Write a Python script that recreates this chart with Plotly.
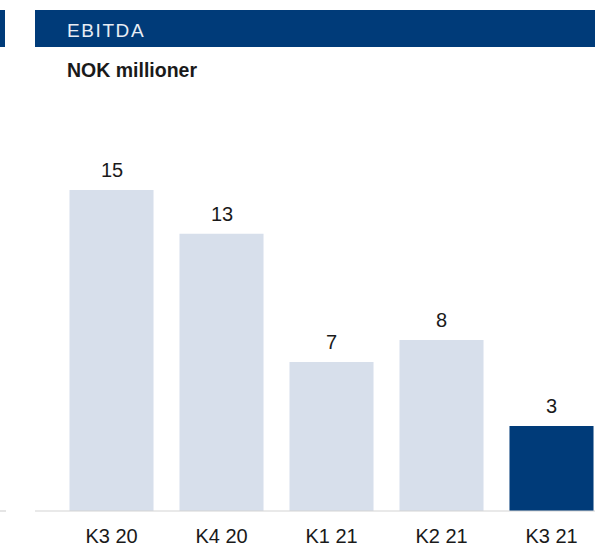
import plotly.graph_objects as go

categories = ["K3 20", "K4 20", "K1 21", "K2 21", "K3 21"]
values = [15.0, 12.95, 6.96, 7.99, 3.97]
value_labels = ["15", "13", "7", "8", "3"]
highlight = [False, False, False, False, True]

W, H = 595, 546
L, R, T, B = 35, 0, 100, 35
PW, PH = W - L - R, H - T - B

DARK = "#003b79"
LIGHT = "#d7dfeb"
FONT = "Liberation Sans, Arial, sans-serif"

def px_x(p):
    return (p - L) / PW

def px_y(p):
    return (H - B - p) / PH

colors = [DARK if h else LIGHT for h in highlight]

fig = go.Figure()
fig.add_trace(go.Bar(
    x=categories, y=values, marker=dict(color=colors, line=dict(width=0)),
    width=0.764, hoverinfo="skip", showlegend=False,
))

for c, v, t in zip(categories, values, value_labels):
    fig.add_annotation(x=c, y=v, text=t, showarrow=False, yanchor="bottom",
                       yshift=7, font=dict(size=20, color="#1a1a1a", family=FONT))

shapes = [
    dict(type="rect", xref="paper", yref="paper", x0=px_x(35), x1=px_x(595),
         y0=px_y(47), y1=px_y(10), fillcolor=DARK, line=dict(width=0), layer="below"),
    dict(type="rect", xref="paper", yref="paper", x0=px_x(0), x1=px_x(5),
         y0=px_y(47), y1=px_y(10), fillcolor=DARK, line=dict(width=0), layer="below"),
    dict(type="line", xref="paper", yref="paper", x0=px_x(35), x1=px_x(595),
         y0=px_y(511), y1=px_y(511), line=dict(color="#d4d4d4", width=1.2)),
    dict(type="line", xref="paper", yref="paper", x0=px_x(0), x1=px_x(6),
         y0=px_y(511), y1=px_y(511), line=dict(color="#d4d4d4", width=1.2)),
]

annotations_extra = [
    dict(text="E\u200aB\u200aI\u200aT\u200aD\u200aA", xref="paper", yref="paper",
         x=px_x(65), y=px_y(30), xanchor="left", yanchor="middle", showarrow=False,
         font=dict(size=19, color="#e8edf4", family=FONT)),
    dict(text="<b>NOK millioner</b>", xref="paper", yref="paper",
         x=px_x(65), y=px_y(70), xanchor="left", yanchor="middle", showarrow=False,
         font=dict(size=19.5, color="#1a1a1a", family=FONT)),
]
for a in annotations_extra:
    fig.add_annotation(**a)

x0 = -(111.5 - L) / 110.0
fig.update_layout(
    width=W, height=H,
    margin=dict(l=L, r=R, t=T, b=B, pad=0),
    paper_bgcolor="white", plot_bgcolor="white",
    shapes=shapes,
    xaxis=dict(range=[x0, x0 + PW / 110.0], showgrid=False, zeroline=False,
               showline=False, ticks="", tickfont=dict(size=20, color="#1a1a1a", family=FONT),
               ticklabelstandoff=11, fixedrange=True),
    yaxis=dict(range=[0, PH / 21.4], visible=False, fixedrange=True),
    font=dict(family=FONT),
)

fig.write_html("out.html", config={"displayModeBar": False},
               post_script="document.body.style.margin='0';document.body.style.overflow='hidden';")
